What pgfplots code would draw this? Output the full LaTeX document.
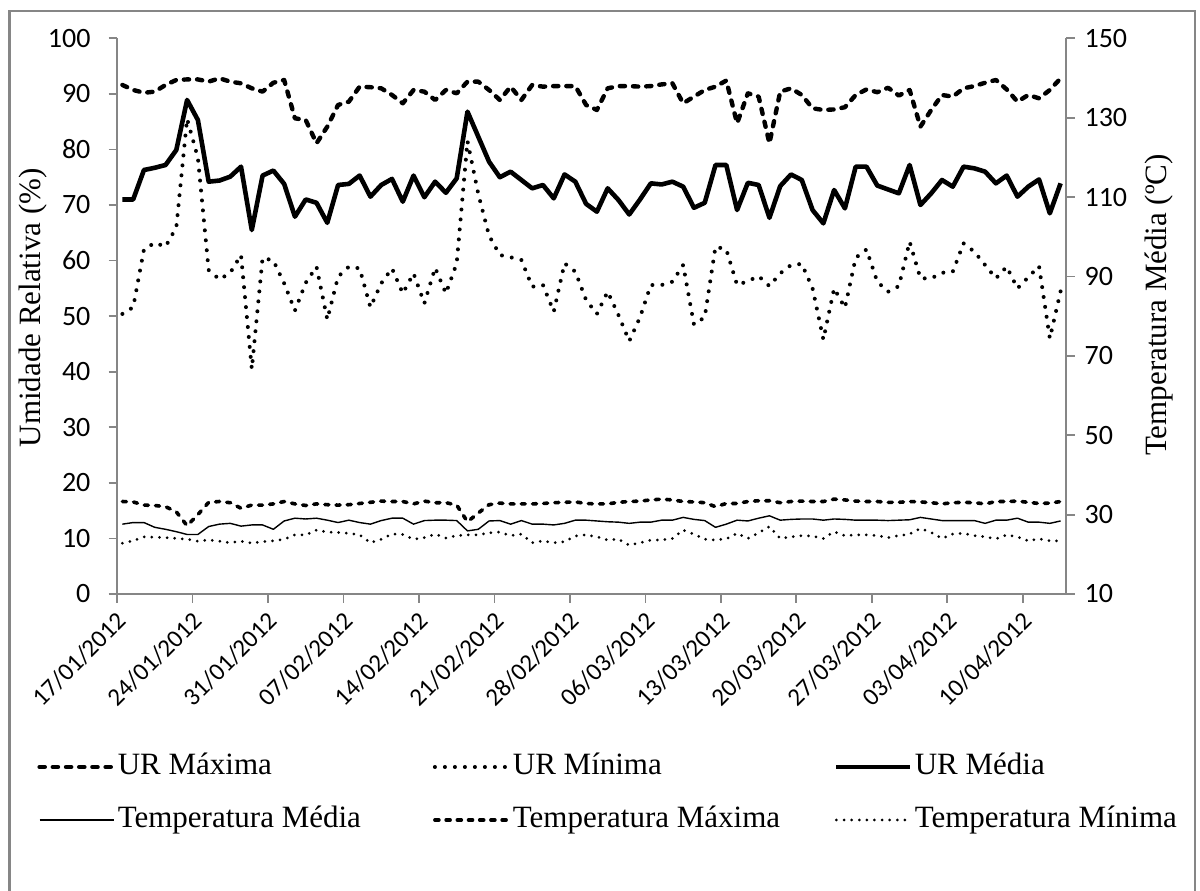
\documentclass[border=0pt]{standalone}
\usepackage{pgfplots}
\pgfplotsset{compat=1.18}
\usepackage{pgfplotstable}
\usepackage{fontspec}
\setmainfont{Liberation Serif}
\newfontfamily\tickfont{Carlito}
\definecolor{axgray}{HTML}{868686}

\pgfplotstableread{
k urmax urmin urmed tmed tmax tmin
0 91.6 50.4 71.0 27.6 33.3 22.8
1 90.7 51.6 71.0 28.0 33.2 23.4
2 90.2 62.0 76.3 28.0 32.4 24.4
3 90.4 63.2 76.7 26.8 32.3 24.3
4 91.6 62.5 77.2 26.3 32.0 24.2
5 92.5 66.0 79.9 25.7 30.7 24.0
6 92.6 85.5 88.9 25.0 27.2 23.8
7 92.6 78.5 85.3 25.0 30.0 23.3
8 92.2 58.3 74.2 27.0 33.1 23.6
9 92.8 56.6 74.4 27.6 33.3 23.3
10 92.2 57.8 75.1 27.8 33.0 22.9
11 91.9 61.0 76.9 27.1 31.6 23.3
12 91.0 40.5 65.5 27.4 32.4 22.8
13 90.4 60.5 75.3 27.4 32.4 23.2
14 92.0 60.0 76.2 26.3 32.7 23.4
15 92.5 55.9 73.8 28.4 33.3 23.8
16 85.6 51.0 67.9 29.1 32.7 24.9
17 85.3 56.0 71.0 28.9 32.3 24.9
18 81.1 58.9 70.4 29.1 32.7 26.1
19 84.1 49.4 66.8 28.6 32.5 25.6
20 88.0 57.1 73.6 28.0 32.4 25.5
21 88.6 58.9 73.8 28.6 32.5 25.3
22 91.3 58.6 75.3 28.0 32.8 24.9
23 91.2 51.6 71.5 27.6 33.1 22.9
24 91.0 55.9 73.6 28.5 33.4 23.8
25 89.8 58.6 74.7 29.1 33.3 25.1
26 88.3 54.1 70.6 29.1 33.3 25.0
27 90.7 57.7 75.3 27.6 32.7 23.8
28 90.4 52.3 71.4 28.5 33.4 24.2
29 88.9 58.7 74.2 28.6 33.0 25.1
30 90.7 54.1 72.2 28.6 33.0 24.1
31 90.1 59.5 74.8 28.5 32.4 24.7
32 92.2 81.5 86.8 25.9 28.2 24.9
33 92.2 72.0 82.3 26.3 30.4 24.9
34 90.7 64.5 77.8 28.4 32.5 25.4
35 88.9 61.0 75.0 28.5 32.9 25.6
36 91.3 60.6 76.0 27.6 32.7 24.7
37 88.9 60.1 74.5 28.5 32.7 25.1
38 91.6 55.3 73.0 27.6 32.7 22.9
39 91.3 55.6 73.6 27.6 32.8 23.4
40 91.4 50.8 71.2 27.4 33.0 22.9
41 91.4 59.5 75.5 27.8 33.1 23.2
42 91.4 58.0 74.2 28.6 33.2 24.6
43 88.0 52.9 70.2 28.6 32.8 24.9
44 87.1 50.4 68.8 28.4 32.7 24.4
45 91.0 54.4 73.0 28.2 32.7 23.6
46 91.4 50.2 70.9 28.1 33.1 23.8
47 91.4 45.5 68.3 27.8 33.3 22.3
48 91.3 49.8 71.0 28.1 33.4 22.9
49 91.4 55.6 73.9 28.1 33.7 23.6
50 91.7 55.6 73.7 28.6 33.9 23.6
51 91.9 56.2 74.2 28.6 33.7 24.0
52 88.3 59.2 73.3 29.3 33.3 26.1
53 89.5 48.5 69.5 28.8 33.2 25.1
54 90.7 49.8 70.4 28.5 33.0 23.8
55 91.3 62.5 77.2 26.8 32.0 23.6
56 92.4 62.0 77.2 27.6 32.8 23.9
57 84.7 55.6 69.1 28.6 32.8 25.3
58 90.1 56.3 74.0 28.4 33.3 24.0
59 89.5 57.2 73.6 29.1 33.5 25.4
60 81.1 55.4 67.7 29.7 33.5 27.0
61 90.4 57.7 73.4 28.6 33.0 24.0
62 91.0 59.2 75.5 28.8 33.3 24.4
63 89.8 59.4 74.5 28.9 33.4 24.7
64 87.4 55.0 69.1 28.9 33.3 24.6
65 87.1 45.8 66.7 28.6 33.3 24.0
66 87.2 55.0 72.7 28.9 33.9 25.7
67 87.6 51.5 69.4 28.8 33.7 24.7
68 89.8 60.5 76.9 28.6 33.4 24.9
69 90.8 62.0 76.9 28.6 33.3 24.9
70 90.3 56.2 73.5 28.6 33.3 24.7
71 91.1 54.4 72.8 28.5 33.1 24.2
72 89.7 55.4 72.1 28.6 33.1 24.7
73 90.7 63.4 77.2 28.7 33.3 25.1
74 84.1 56.8 70.0 29.3 33.2 26.5
75 87.1 56.8 72.1 28.9 33.0 25.5
76 89.8 57.8 74.5 28.5 32.7 24.0
77 89.5 58.0 73.3 28.5 33.0 25.1
78 91.0 63.1 76.9 28.5 33.1 25.3
79 91.4 61.6 76.6 28.5 33.0 24.7
80 92.0 59.2 76.0 27.8 32.7 24.4
81 92.5 56.8 73.9 28.6 33.3 23.9
82 90.8 58.9 75.3 28.6 33.3 24.9
83 88.6 55.0 71.5 29.1 33.4 24.4
84 89.8 57.0 73.3 28.1 33.1 23.4
85 89.2 59.0 74.6 28.1 32.8 23.9
86 90.7 46.0 68.5 27.8 32.9 23.4
87 92.8 54.5 73.9 28.4 33.3 23.4
}\datatable

\tikzset{
  urmaxst/.style={black, line width=2.2pt, dash pattern=on 2.6pt off 4pt, line cap=round, line join=round},
  urminst/.style={black, line width=2pt, dash pattern=on 0pt off 5pt, line cap=round, line join=round},
  urmedst/.style={black, line width=2.3pt, line join=round},
  tmedst/.style={black, line width=0.7pt, line join=round},
  tmaxst/.style={black, line width=1.8pt, dash pattern=on 2pt off 3.6pt, line cap=round, line join=round},
  tminst/.style={black, line width=1.5pt, dash pattern=on 0pt off 3.8pt, line cap=round, line join=round},
}

\pgfplotsset{
  common/.style={
    at={(58.5pt,148pt)}, anchor=south west,
    scale only axis, width=474.5pt, height=277.85pt,
    xmin=-0.5, xmax=87.5,
    axis line style={axgray, line width=0.9pt, -},
    tick align=outside, major tick length=4.25pt,
    every tick/.style={axgray, line width=0.9pt},
    ticklabel style={font=\tickfont\fontsize{14}{16}\selectfont, black},
    /pgf/number format/assume math mode=true,
    label style={font=\fontsize{15.5}{18}\selectfont},
  }
}

\begin{document}
\begin{tikzpicture}
\useasboundingbox (0,0) rectangle (600pt,445pt);
\draw[axgray, line width=1.4pt] (4.75pt,-20pt) rectangle (597.5pt,439.5pt);

\begin{axis}[common,
  ymin=0, ymax=100,
  axis x line*=bottom, axis y line*=left,
  xtick={-0.5,6.5,13.5,20.5,27.5,34.5,41.5,48.5,55.5,62.5,69.5,76.5,83.5},
  xticklabels={17/01/2012,24/01/2012,31/01/2012,07/02/2012,14/02/2012,21/02/2012,28/02/2012,06/03/2012,13/03/2012,20/03/2012,27/03/2012,03/04/2012,10/04/2012},
  xticklabel style={font=\tickfont\fontsize{12.5}{14}\selectfont, xshift=5pt, yshift=-4.5pt, rotate=45, anchor=east},
  yticklabel style={xshift=-5.5pt},
  ytick={0,10,...,100},
  ylabel={Umidade Relativa (\%)},
  ylabel style={at={(axis description cs:-0.0885,0.515)}, anchor=center},
]
\addplot[urmaxst] table[x=k, y=urmax]{\datatable};
\addplot[urminst] table[x=k, y=urmin]{\datatable};
\addplot[urmedst] table[x=k, y=urmed]{\datatable};
\end{axis}

\begin{axis}[common,
  ymin=10, ymax=150,
  axis x line=none, axis y line*=right,
  ytick={10,30,...,150},
  yticklabel style={xshift=1.5pt},
  ylabel={Temperatura Média (ºC)},
  ylabel style={at={(axis description cs:1.098,0.52)}, anchor=center},
  legend columns=3,
  legend cell align=left,
  legend image code/.code={\draw[#1] (0pt,0pt) -- (37pt,0pt);},
  legend style={draw=none, fill=none, inner sep=0pt,
    at={(axis description cs:-0.0843,-0.359)}, anchor=west,
    font=\fontsize{15.5}{18}\selectfont,
    row sep=12pt,
    nodes={inner xsep=1pt, inner ysep=0pt, text height=11pt, text depth=3.5pt},
    /tikz/column 2/.style={column sep=35pt},
    /tikz/column 4/.style={column sep=26pt},
  },
]
\addlegendimage{urmaxst}\addlegendentry{UR Máxima}
\addlegendimage{urminst}\addlegendentry{UR Mínima}
\addlegendimage{urmedst}\addlegendentry{UR Média}
\addplot[tmedst] table[x=k, y=tmed]{\datatable};
\addlegendentry{Temperatura Média}
\addplot[tmaxst] table[x=k, y=tmax]{\datatable};
\addlegendentry{Temperatura Máxima}
\addplot[tminst] table[x=k, y=tmin]{\datatable};
\addlegendentry{Temperatura Mínima}
\end{axis}
\end{tikzpicture}
\end{document}
